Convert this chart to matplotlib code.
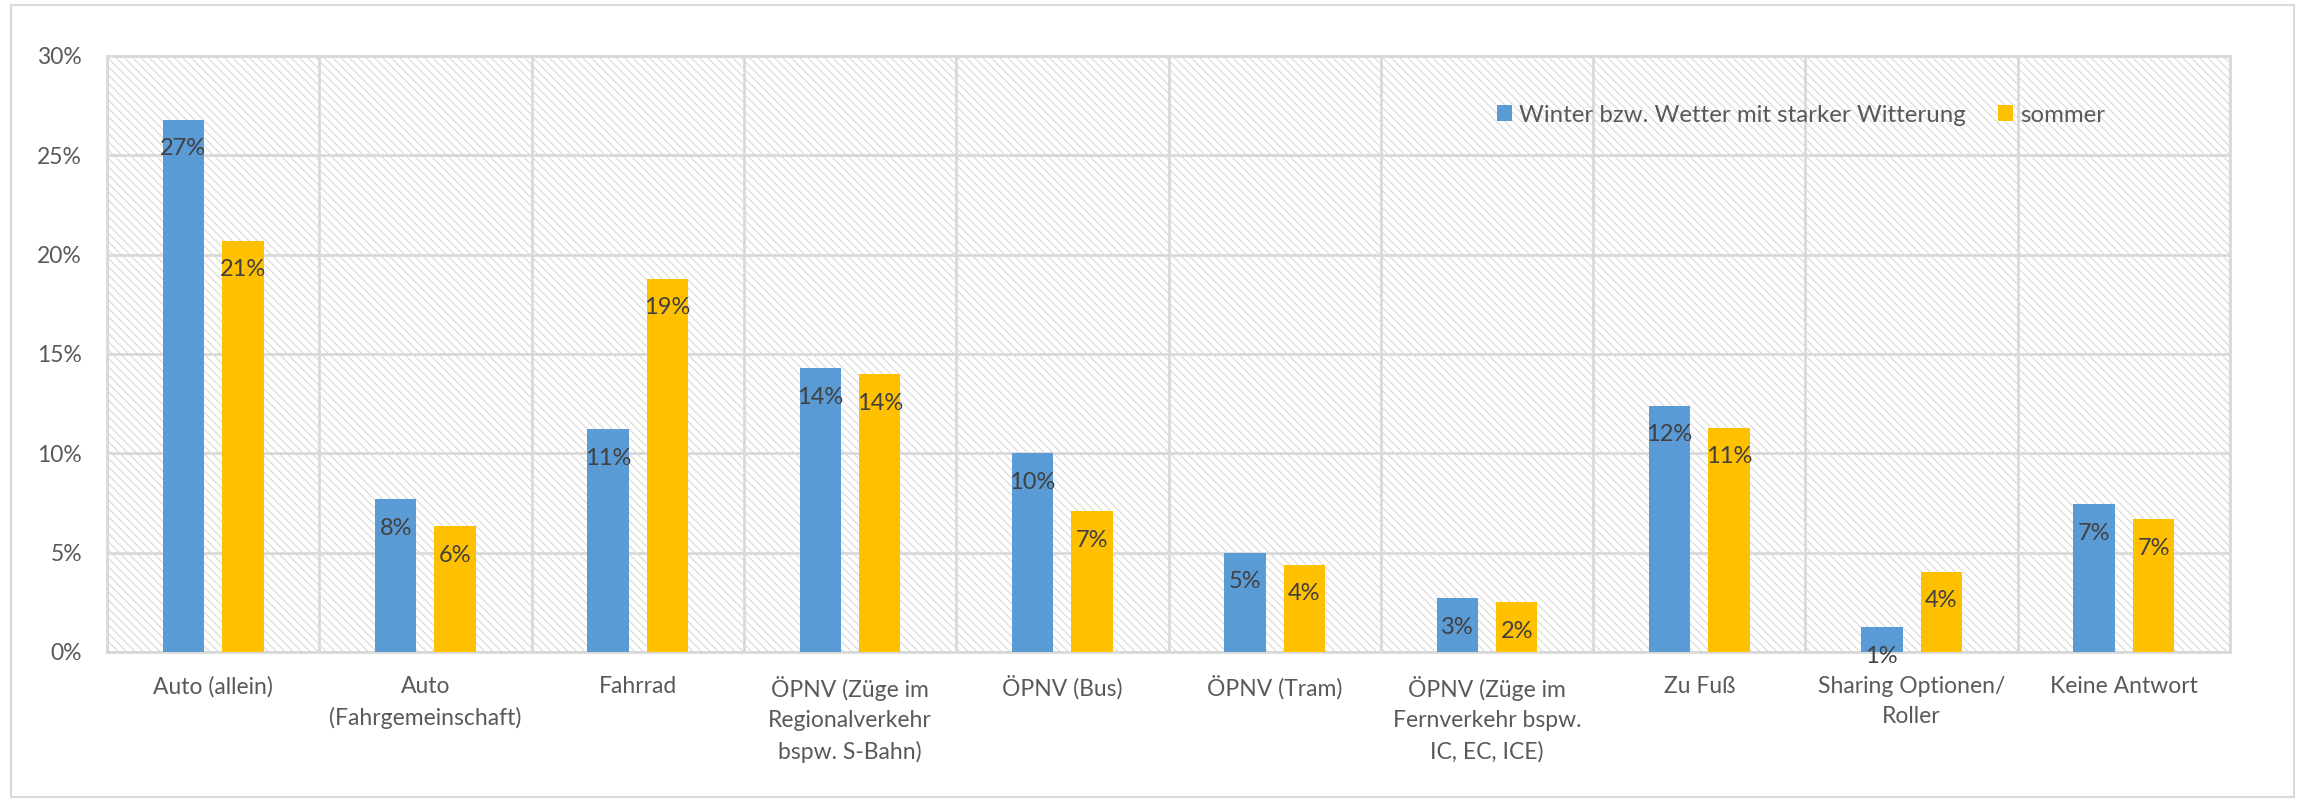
import matplotlib
matplotlib.use("Agg")
import matplotlib.pyplot as plt
from matplotlib.patches import Rectangle
from matplotlib.ticker import FuncFormatter
import numpy as np

categories = [
    "Auto (allein)",
    "Auto\n(Fahrgemeinschaft)",
    "Fahrrad",
    "ÖPNV (Züge im\nRegionalverkehr\nbspw. S-Bahn)",
    "ÖPNV (Bus)",
    "ÖPNV (Tram)",
    "ÖPNV (Züge im\nFernverkehr bspw.\nIC, EC, ICE)",
    "Zu Fuß",
    "Sharing Optionen/\nRoller",
    "Keine Antwort",
]
winter = [26.8, 7.7, 11.2, 14.3, 10.0, 5.0, 2.7, 12.4, 1.25, 7.45]
sommer = [20.7, 6.35, 18.8, 14.0, 7.1, 4.4, 2.5, 11.3, 4.05, 6.7]
series_names = ["Winter bzw. Wetter mit starker Witterung", "sommer"]
yticks = [0, 5, 10, 15, 20, 25, 30]

plt.rcParams['font.family'] = ['Lato', 'DejaVu Sans']
plt.rcParams['hatch.color'] = '#DCDCDC'
plt.rcParams['hatch.linewidth'] = 0.8

W, H = 2305, 802
fig = plt.figure(figsize=(W / 100, H / 100), dpi=100)
ax = fig.add_axes([107 / W, 1 - 652 / H, (2230 - 107) / W, (652 - 56) / H])

fs = 16.5
blue = '#5B9BD5'
yellow = '#FFC000'
grid_c = '#D9D9D9'

x = np.arange(len(categories))
bw = 0.195
off = 0.14

ax.patch.set_facecolor('white')
ax.patch.set_hatch('\\\\\\\\')
ax.patch.set_edgecolor(grid_c)

b1 = ax.bar(x - off, winter, bw, color=blue, zorder=3, label=series_names[0])
b2 = ax.bar(x + off, sommer, bw, color=yellow, zorder=3, label=series_names[1])

for bars, vals in ((b1, winter), (b2, sommer)):
    for rect, v in zip(bars, vals):
        ax.annotate(f"{v:.0f}%", (rect.get_x() + rect.get_width() / 2, v),
                    xytext=(0, -21), textcoords='offset points',
                    ha='center', va='center', fontsize=fs + 0.5, color='#404040', zorder=5)

ax.set_xlim(-0.5, len(categories) - 0.5)
ax.set_ylim(0, 30)
ax.set_yticks(yticks)
ax.yaxis.set_major_formatter(FuncFormatter(lambda v, p: f"{v:.0f}%"))
ax.set_xticks(x)
ax.set_xticklabels(categories, linespacing=1.55)
ax.set_xticks(np.arange(-0.5, len(categories), 1.0), minor=True)
ax.tick_params(axis='x', which='major', length=0, pad=17, labelsize=fs, labelcolor='#595959')
ax.tick_params(axis='x', which='minor', length=0)
ax.tick_params(axis='y', length=0, pad=18, labelsize=fs, labelcolor='#595959')

ax.grid(axis='y', which='major', color=grid_c, lw=2, zorder=1)
ax.grid(axis='x', which='minor', color=grid_c, lw=2, zorder=1)
ax.grid(axis='x', which='major', visible=False)
ax.set_axisbelow(True)
for s in ax.spines.values():
    s.set_color(grid_c)
    s.set_linewidth(2)

leg = fig.legend(loc='center left', bbox_to_anchor=(1497 / W, 1 - 115 / H), ncol=2,
                 frameon=False, fontsize=17.3, handlelength=0.62, handleheight=0.62,
                 handletextpad=0.3, columnspacing=1.35, borderpad=0, borderaxespad=0)
for t in leg.get_texts():
    t.set_color('#595959')

fig.patches.append(Rectangle((11 / W, 5 / H), (2294 - 11) / W, (797 - 5) / H,
                             transform=fig.transFigure, fill=False,
                             edgecolor=grid_c, lw=1.5))

fig.savefig('out.png', dpi=100)
